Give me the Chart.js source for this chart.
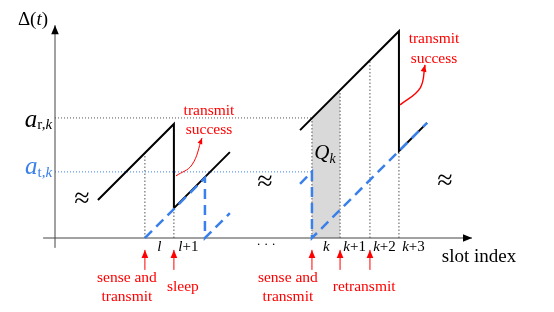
<!DOCTYPE html>
<html>
<head>
<meta charset="utf-8">
<script src="https://cdn.jsdelivr.net/npm/chart.js@4.4.0/dist/chart.umd.min.js"></script>
<style>
  html, body { margin: 0; padding: 0; background: #fff; }
  #wrap { width: 554px; height: 312px; }
</style>
</head>
<body>
<div id="wrap"><canvas id="chart"></canvas></div>
<script>
// everything is in slot units: x = time (slots), y = age of information
const aR = 4.14;   // a_{r,k}
const aT = 2.28;   // a_{t,k}

// slot boundaries that get a dotted guide, and how high the guide reaches
const guideX   = [3.10, 4.10, 8.86, 9.83, 10.86, 11.86];
const guideTop = [2.93, 1.03, 4.13, 5.10, 6.13, 3.00];

// slot tick labels (drawn in the middle of each slot)
const slotStarts = [3.10, 4.10, 8.86, 9.83, 10.86, 11.86];
const slotLabels = ['l', 'l+1', 'k', 'k+1', 'k+2', 'k+3'];

// age curves (black = receiver, blue dashed = transmitter)
const ageFirst    = [{x: 1.48, y: 1.31}, {x: 4.10, y: 3.93}, {x: 4.10, y: 1.03}, {x: 6.03, y: 2.96}];
const ageFirstTx  = [{x: 3.10, y: 0}, {x: 5.17, y: 2.07}, {x: 5.17, y: 0}, {x: 6.03, y: 0.86}];
const ageSecond   = [{x: 8.45, y: 3.72}, {x: 11.86, y: 7.13}, {x: 11.86, y: 3.00}, {x: 12.83, y: 3.97}];
const ageSecondTx = [{x: 8.45, y: 1.87}, {x: 8.86, y: 2.28}, {x: 8.86, y: 0}, {x: 12.83, y: 3.97}];

// shaded area Q_k
const qArea = [{x: 8.86, y: 4.13}, {x: 9.83, y: 5.10}];

// red event arrows under the axis
const eventX = [3.10, 4.10, 8.86, 9.83, 10.86];
const eventBottom = -1.10, eventTop = -0.41;

// curved "transmit success" pointers
const successCurve1 = [{x: 4.17, y: 2.14}, {x: 4.72, y: 2.52}, {x: 5.07, y: 3.45}];
const successCurve2 = [{x: 11.90, y: 4.59}, {x: 12.59, y: 5.17}, {x: 12.76, y: 5.97}];

const RED = '#ff0000';
const BLUE = '#3a80ea';
const SERIF = "'Liberation Serif', 'DejaVu Serif', serif";

const line = (data, color, width, dash, extra) => Object.assign({
  data, showLine: true, borderColor: color, borderWidth: width, borderDash: dash || [],
  pointRadius: 0, fill: false, tension: 0
}, extra || {});

const datasets = [
  line(qArea, 'rgba(0,0,0,0)', 0, [], { fill: 'origin', backgroundColor: '#d9d9d9', order: 20 }),
  // axes
  line([{x: -0.41, y: 0}, {x: 14.38, y: 0}], '#444', 1, [], { arrowHead: 9, arrowColor: '#000', order: 5 }),
  line([{x: 0, y: -0.34}, {x: 0, y: 7.34}], '#444', 1, [], { arrowHead: 9, arrowColor: '#000', order: 5 }),
  // horizontal guides
  line([{x: 0, y: aR}, {x: 8.86, y: aR}], '#555', 1, [1, 2], { order: 15 }),
  line([{x: 0, y: aT}, {x: 8.86, y: aT}], BLUE, 1, [1, 2], { order: 15 }),
  // vertical guides
  ...guideX.map((gx, i) => line([{x: gx, y: 0}, {x: gx, y: guideTop[i]}], '#555', 1, [1.5, 2], { order: 15 })),
  // age curves
  line(ageFirst, '#000', 2, [], { order: 3 }),
  line(ageSecond, '#000', 2, [], { order: 3 }),
  line(ageFirstTx, BLUE, 2.5, [10, 6], { order: 2 }),
  line(ageSecondTx, BLUE, 2.5, [10, 6], { order: 2 }),
  // event arrows
  ...eventX.map(ex => line([{x: ex, y: eventBottom}, {x: ex, y: eventTop}], RED, 1, [], { arrowHead: 8, arrowColor: RED, order: 1 })),
  // success pointers
  line(successCurve1, RED, 1, [], { tension: 0.4, arrowHead: 6, arrowColor: RED, order: 1 }),
  line(successCurve2, RED, 1.4, [], { tension: 0.4, arrowHead: 7, arrowColor: RED, order: 1 })
];

// text labels, positioned in data units
const texts = [
  { x: -0.76, y: 7.52, runs: [['Δ(', 19, ''], ['t', 19, 'italic '], [')', 19, '']], color: '#000' },
  { x: -0.10, y: 4.07, align: 'right', runs: [['a', 25, 'italic '], ['r,', 15, '', 5], ['k', 15, 'italic ', 5]], color: '#000' },
  { x: -0.10, y: 2.42, align: 'right', runs: [['a', 25, 'italic ', 0, BLUE], ['t,', 15, '', 5, BLUE], ['k', 15, 'italic ', 5, BLUE]], color: BLUE },
  { x: 9.31, y: 2.90, runs: [['Q', 21, 'italic '], ['k', 14, 'italic ', 5]], color: '#000' },
  { x: 0.93, y: 1.31, runs: [['≈', 28, '']], color: '#000' },
  { x: 7.24, y: 1.90, runs: [['≈', 28, '']], color: '#000' },
  { x: 13.45, y: 1.93, runs: [['≈', 28, '']], color: '#000' },
  { x: 7.28, y: -0.24, runs: [['· · ·', 13, '']], color: '#000' },
  { x: 14.62, y: -0.66, runs: [['slot index', 19, '']], color: '#000' },
  { x: 5.31, y: 4.38, runs: [['transmit', 15.5, '']], color: RED },
  { x: 5.31, y: 3.72, runs: [['success', 15.5, '']], color: RED },
  { x: 13.07, y: 6.86, runs: [['transmit', 15.5, '']], color: RED },
  { x: 13.07, y: 6.17, runs: [['success', 15.5, '']], color: RED },
  { x: 2.48, y: -1.38, runs: [['sense and', 15.5, '']], color: RED },
  { x: 2.48, y: -2.03, runs: [['transmit', 15.5, '']], color: RED },
  { x: 4.41, y: -1.69, runs: [['sleep', 15.5, '']], color: RED },
  { x: 8.03, y: -1.38, runs: [['sense and', 15.5, '']], color: RED },
  { x: 8.03, y: -2.03, runs: [['transmit', 15.5, '']], color: RED },
  { x: 10.66, y: -1.69, runs: [['retransmit', 15.5, '']], color: RED }
];

// slot labels: italic letter, upright "+n"
slotLabels.forEach((lab, i) => {
  const runs = [[lab[0], 15, 'italic ']];
  if (lab.length > 1) runs.push([lab.slice(1), 15, '']);
  texts.push({ x: slotStarts[i] + 0.5, y: -0.32, runs, color: '#000' });
});

function drawRuns(ctx, px, py, item) {
  let w = 0;
  item.runs.forEach(r => { ctx.font = r[2] + r[1] + 'px ' + SERIF; w += ctx.measureText(r[0]).width; });
  let cx = item.align === 'right' ? px - w : item.align === 'left' ? px : px - w / 2;
  item.runs.forEach(r => {
    ctx.font = r[2] + r[1] + 'px ' + SERIF;
    ctx.fillStyle = r[4] || item.color;
    ctx.fillText(r[0], cx, py + (r[3] || 0));
    cx += ctx.measureText(r[0]).width;
  });
}

const decorations = {
  id: 'decorations',
  afterDatasetsDraw(chart) {
    const ctx = chart.ctx;
    const xs = chart.scales.x, ys = chart.scales.y;
    ctx.save();
    // arrow heads at the end of flagged lines
    chart.data.datasets.forEach((ds, i) => {
      if (!ds.arrowHead) return;
      const pts = chart.getDatasetMeta(i).data;
      const end = pts[pts.length - 1];
      let fx = pts[pts.length - 2].x, fy = pts[pts.length - 2].y;
      if (ds.tension && end.cp1x !== undefined) { fx = end.cp1x; fy = end.cp1y; }
      const ang = Math.atan2(end.y - fy, end.x - fx);
      const L = ds.arrowHead, W = ds.arrowHead * 0.42;
      ctx.fillStyle = ds.arrowColor;
      ctx.beginPath();
      ctx.moveTo(end.x, end.y);
      ctx.lineTo(end.x - L * Math.cos(ang) + W * Math.sin(ang), end.y - L * Math.sin(ang) - W * Math.cos(ang));
      ctx.lineTo(end.x - L * Math.cos(ang) - W * Math.sin(ang), end.y - L * Math.sin(ang) + W * Math.cos(ang));
      ctx.closePath();
      ctx.fill();
    });
    ctx.textBaseline = 'middle';
    texts.forEach(t => drawRuns(ctx, xs.getPixelForValue(t.x), ys.getPixelForValue(t.y), t));
    ctx.restore();
  }
};

new Chart(document.getElementById('chart'), {
  type: 'scatter',
  data: { datasets },
  options: {
    responsive: true,
    maintainAspectRatio: false,
    animation: false,
    layout: { padding: 0 },
    plugins: { legend: { display: false }, tooltip: { enabled: false } },
    scales: {
      x: { type: 'linear', min: -55 / 29, max: (554 - 55) / 29, display: false },
      y: { type: 'linear', min: -74 / 29, max: 238 / 29, display: false }
    }
  },
  plugins: [decorations]
});
</script>
</body>
</html>
